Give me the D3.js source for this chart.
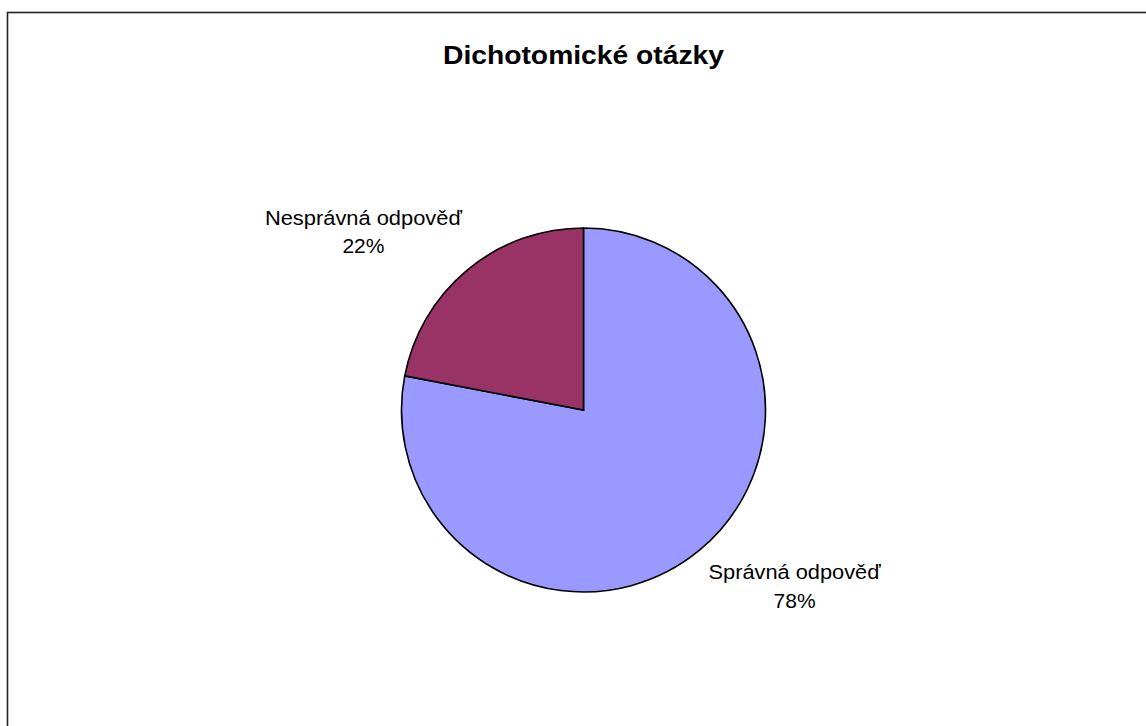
<!DOCTYPE html>
<html>
<head>
<meta charset="utf-8">
<script src="https://cdn.jsdelivr.net/npm/d3@7/dist/d3.min.js"></script>
<style>
  html, body { margin: 0; padding: 0; background: #fff; }
  svg { display: block; }
  text { font-family: "Liberation Sans", Arial, sans-serif; fill: #000; }
</style>
</head>
<body>
<svg id="chart" width="1146" height="726"></svg>
<script>
// Answer categories and their shares (percent)
const categories = ["Správná odpověď", "Nesprávná odpověď"];
const shares = [78, 22];
const colors = ["#9999FF", "#993366"];
const title = "Dichotomické otázky";

const svg = d3.select("#chart");
const W = 1146, H = 726;

// chart frame (runs past the right and bottom edges)
svg.append("rect")
  .attr("x", 7.5).attr("y", 12.5)
  .attr("width", W + 20).attr("height", H + 20)
  .attr("fill", "#fff")
  .attr("stroke", "#222").attr("stroke-width", 1.6);

svg.append("text")
  .attr("x", 583.5).attr("y", 64)
  .attr("text-anchor", "middle")
  .attr("font-weight", "bold")
  .attr("font-size", 26)
  .attr("textLength", 281)
  .attr("lengthAdjust", "spacingAndGlyphs")
  .text(title);

const cx = 583.5, cy = 410, r = 182;
const data = categories.map((c, i) => ({ name: c, value: shares[i], color: colors[i] }));

const pie = d3.pie().value(d => d.value).sort(null);
const arc = d3.arc().innerRadius(0).outerRadius(r);
const arcs = pie(data);

const g = svg.append("g").attr("transform", `translate(${cx},${cy})`);
g.selectAll("path")
  .data(arcs)
  .join("path")
  .attr("d", arc)
  .attr("fill", d => d.data.color)
  .attr("stroke", "#000")
  .attr("stroke-width", 1.6)
  .attr("stroke-linejoin", "miter");

// labels outside the pie, placed a little before each slice's mid-angle
const labelR = r * 1.533;
const angleShift = -11 * Math.PI / 180;
const labelDx = -4.5, labelDy = 5.5;
const labels = g.selectAll("g.lbl")
  .data(arcs)
  .join("g")
  .attr("class", "lbl")
  .attr("transform", d => {
    const a = (d.startAngle + d.endAngle) / 2 + angleShift;
    return `translate(${labelR * Math.sin(a) + labelDx},${-labelR * Math.cos(a) + labelDy})`;
  });

labels.append("text")
  .attr("text-anchor", "middle")
  .attr("font-size", 20.5)
  .attr("y", -13.5)
  .attr("textLength", d => d.data.name.length === 17 ? 197 : 172)
  .attr("lengthAdjust", "spacingAndGlyphs")
  .text(d => d.data.name);
labels.append("text")
  .attr("text-anchor", "middle")
  .attr("font-size", 21)
  .attr("y", 15)
  .text(d => d.data.value + "%");
</script>
</body>
</html>
